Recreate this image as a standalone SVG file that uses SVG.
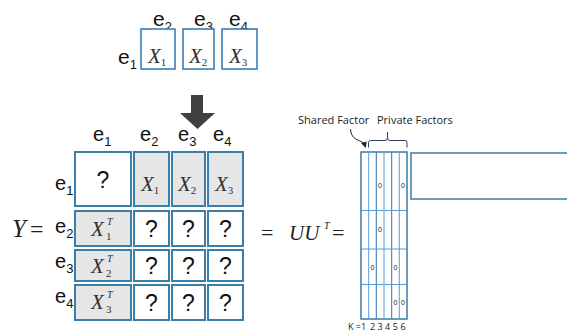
<svg xmlns="http://www.w3.org/2000/svg" width="567" height="333" viewBox="0 0 567 333">
<defs>
<style>
.lbl{font-family:"Liberation Sans",Arial,sans-serif;font-size:20px;fill:#111}
.sub{font-size:13px}
.mx{font-family:"Liberation Serif","Times New Roman",serif;font-style:italic;font-size:21px;fill:#333}
.ms{font-style:normal;font-size:11px}
.mt{font-size:10px}
.q{font-family:"Liberation Sans",Arial,sans-serif;font-size:23px;fill:#111;text-anchor:middle}
.cellw{fill:#fff;stroke:#3b7ea8;stroke-width:2}
.cellg{fill:#e6e6e6;stroke:#3b7ea8;stroke-width:2}
.topb{fill:#fff;stroke:#2f74b0;stroke-width:1.5}
.zero{font-family:"Liberation Sans",Arial,sans-serif;font-size:7px;fill:#222;text-anchor:middle}
.ann{font-family:"Open Sans","Liberation Sans",sans-serif;font-size:11px;fill:#222}
.eq{font-family:"Liberation Serif","Times New Roman",serif;fill:#222}
</style>
<marker id="ah" markerWidth="6" markerHeight="6" refX="5" refY="3" orient="auto" markerUnits="userSpaceOnUse">
<path d="M0,0 L6,3 L0,6 z" fill="#222"/>
</marker>
</defs>

<!-- top input blocks -->
<g id="top-labels">
<text class="lbl" x="118" y="64" style="font-size:21px">e<tspan class="sub" dy="5">1</tspan></text>
<text class="lbl" x="153" y="26" style="font-size:21px">e<tspan class="sub" dy="5">2</tspan></text>
<text class="lbl" x="194" y="26" style="font-size:21px">e<tspan class="sub" dy="5">3</tspan></text>
<text class="lbl" x="229" y="26" style="font-size:21px">e<tspan class="sub" dy="5">4</tspan></text>
</g>
<g id="top-X1"><rect class="topb" x="141" y="29" width="34" height="40"/><text class="mx" x="148" y="63">X<tspan class="ms" dy="3">1</tspan></text></g>
<g id="top-X2"><rect class="topb" x="183" y="29" width="31" height="40"/><text class="mx" x="189" y="63">X<tspan class="ms" dy="3">2</tspan></text></g>
<g id="top-X3"><rect class="topb" x="222" y="29" width="35" height="40"/><text class="mx" x="229" y="63">X<tspan class="ms" dy="3">3</tspan></text></g>

<!-- big arrow -->
<g id="down-arrow"><polygon points="191,95 203,95 203,113 215,113 197.5,129 180,113 191,113" fill="#404040"/></g>

<!-- Y matrix labels -->
<g id="y-labels">
<text class="eq" x="12" y="237" style="font-style:italic;font-size:25px">Y</text>
<text class="eq" x="30" y="237" style="font-size:24px">=</text>
<text class="lbl" x="93" y="141">e<tspan class="sub" dy="5">1</tspan></text>
<text class="lbl" x="140" y="141">e<tspan class="sub" dy="5">2</tspan></text>
<text class="lbl" x="178" y="141">e<tspan class="sub" dy="5">3</tspan></text>
<text class="lbl" x="213" y="141">e<tspan class="sub" dy="5">4</tspan></text>
<text class="lbl" x="55" y="190">e<tspan class="sub" dy="5">1</tspan></text>
<text class="lbl" x="55" y="233">e<tspan class="sub" dy="5">2</tspan></text>
<text class="lbl" x="55" y="268">e<tspan class="sub" dy="5">3</tspan></text>
<text class="lbl" x="55" y="303">e<tspan class="sub" dy="5">4</tspan></text>
</g>

<!-- Y matrix cells -->
<g id="c11"><rect class="cellw" x="75" y="152" width="56" height="54"/><text class="q" x="103" y="188">?</text></g>
<g id="c12"><rect class="cellg" x="134" y="152" width="35" height="54"/><text class="mx" x="141" y="191">X<tspan class="ms" dy="3">1</tspan></text></g>
<g id="c13"><rect class="cellg" x="172" y="152" width="33" height="54"/><text class="mx" x="178" y="191">X<tspan class="ms" dy="3">2</tspan></text></g>
<g id="c14"><rect class="cellg" x="208" y="152" width="35" height="54"/><text class="mx" x="215" y="191">X<tspan class="ms" dy="3">3</tspan></text></g>

<g id="c21"><rect class="cellg" x="75" y="211" width="56" height="35"/><text class="mx" x="91" y="236">X</text><text class="mx mt" x="107" y="225">T</text><text class="mx ms" x="106" y="240">1</text></g>
<g id="c22"><rect class="cellw" x="134" y="211" width="35" height="35"/><text class="q" x="151.5" y="237">?</text></g>
<g id="c23"><rect class="cellw" x="172" y="211" width="33" height="35"/><text class="q" x="188.5" y="237">?</text></g>
<g id="c24"><rect class="cellw" x="208" y="211" width="35" height="35"/><text class="q" x="225.5" y="237">?</text></g>

<g id="c31"><rect class="cellg" x="75" y="250" width="56" height="31"/><text class="mx" x="91" y="273">X</text><text class="mx mt" x="107" y="262">T</text><text class="mx ms" x="106" y="277">2</text></g>
<g id="c32"><rect class="cellw" x="134" y="250" width="35" height="31"/><text class="q" x="151.5" y="274">?</text></g>
<g id="c33"><rect class="cellw" x="172" y="250" width="33" height="31"/><text class="q" x="188.5" y="274">?</text></g>
<g id="c34"><rect class="cellw" x="208" y="250" width="35" height="31"/><text class="q" x="225.5" y="274">?</text></g>

<g id="c41"><rect class="cellg" x="75" y="285" width="56" height="35"/><text class="mx" x="91" y="309">X</text><text class="mx mt" x="107" y="298">T</text><text class="mx ms" x="106" y="313">3</text></g>
<g id="c42"><rect class="cellw" x="134" y="285" width="35" height="35"/><text class="q" x="151.5" y="311">?</text></g>
<g id="c43"><rect class="cellw" x="172" y="285" width="33" height="35"/><text class="q" x="188.5" y="311">?</text></g>
<g id="c44"><rect class="cellw" x="208" y="285" width="35" height="35"/><text class="q" x="225.5" y="311">?</text></g>

<!-- = UU^T = -->
<g id="uut">
<text class="eq" x="261" y="240" style="font-size:22px">=</text>
<text class="eq" x="289" y="240" style="font-style:italic;font-size:21px">UU</text>
<text class="eq" x="324" y="229" style="font-style:italic;font-size:10px">T</text>
<text class="eq" x="332" y="240" style="font-size:22px">=</text>
</g>

<!-- U matrix -->
<g id="U">
<rect x="361" y="152" width="46" height="167" fill="#fff" stroke="#3a7ca5" stroke-width="1.5"/>
<g stroke-width="1">
<line x1="368.7" y1="152" x2="368.7" y2="319" stroke="#5b9bd5"/>
<line x1="376.3" y1="152" x2="376.3" y2="319" stroke="#2f74b0"/>
<line x1="384" y1="152" x2="384" y2="319" stroke="#5b9bd5"/>
<line x1="391.7" y1="152" x2="391.7" y2="319" stroke="#2f74b0"/>
<line x1="399.3" y1="152" x2="399.3" y2="319" stroke="#5b9bd5"/>
<line x1="361" y1="210.5" x2="407" y2="210.5" stroke="#5b9bd5"/>
<line x1="361" y1="249" x2="407" y2="249" stroke="#5b9bd5"/>
<line x1="361" y1="284.5" x2="407" y2="284.5" stroke="#5b9bd5"/>
</g>
<text class="zero" x="380" y="188">0</text>
<text class="zero" x="403" y="188">0</text>
<text class="zero" x="380" y="232">0</text>
<text class="zero" x="372.5" y="269.5">0</text>
<text class="zero" x="395.5" y="269.5">0</text>
<text class="zero" x="395.5" y="305">0</text>
<text class="zero" x="403" y="305">0</text>
</g>

<!-- U^T block -->
<g id="UT"><rect x="411" y="153" width="160" height="46" fill="#fff" stroke="#3a7ca5" stroke-width="1.5"/></g>

<!-- K labels -->
<g id="k-labels" font-family="Open Sans,Liberation Sans,sans-serif" font-size="9" fill="#222">
<text x="348" y="330">K =1</text>
<text x="372.5" y="330" text-anchor="middle">2</text>
<text x="380" y="330" text-anchor="middle">3</text>
<text x="387.7" y="330" text-anchor="middle">4</text>
<text x="395.3" y="330" text-anchor="middle">5</text>
<text x="403" y="330" text-anchor="middle">6</text>
</g>

<!-- annotations -->
<g id="annotations">
<text class="ann" x="298" y="124">Shared Factor</text>
<text class="ann" x="377" y="124">Private Factors</text>
</g>

<g id="connectors" fill="none" stroke="#2f3d5e" stroke-width="1">
<path d="M350.5,129 C351,138 356,139 360,141 C363,142.5 364.5,144 365.5,147" marker-end="url(#ah)" stroke="#222"/>
<path d="M368.5,147.5 V142.5 Q368.5,140.5 370.5,140.5 H385 Q387.5,140.5 387.5,137.5 V132 M387.5,137.5 Q387.5,140.5 390,140.5 H405 Q407,140.5 407,142.5 V147.5"/>
</g>
</svg>
